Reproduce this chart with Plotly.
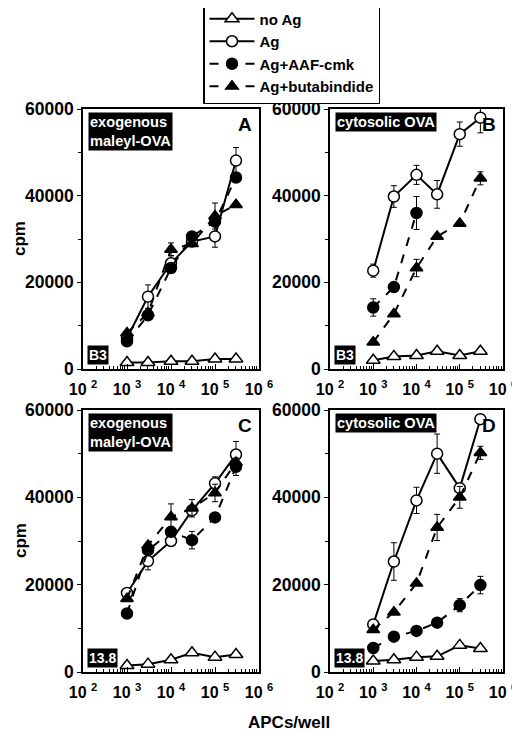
import plotly.graph_objects as go

W, H = 520, 734
OFF = 8  # page body margin of the browser

# ---------------- data ----------------
apcs = [1e3, 3e3, 1e4, 3e4, 1e5, 3e5]
series_names = ["no Ag", "Ag", "Ag+AAF-cmk", "Ag+butabindide"]

# Panel A (B3, exogenous maleyl-OVA)
A_noag = [1500, 1500, 1800, 1800, 2300, 2300]
A_ag = [7100, 16700, 24400, 29400, 30600, 48100]
A_ag_err = [0, 2700, 1800, 0, 2500, 3000]
A_aaf = [6400, 12400, 23300, 30600, 34000, 44200]
A_aaf_err = [0, 0, 0, 0, 0, 0]
A_buta = [8300, 12900, 27600, 28900, 35300, 37900]
A_buta_err = [0, 0, 1500, 0, 3000, 0]

# Panel B (B3, cytosolic OVA)
B_noag = [2000, 2900, 3100, 4100, 3100, 4100]
B_ag = [22700, 39800, 44800, 40300, 54200, 58000]
B_ag_err = [1500, 2500, 2200, 3200, 2800, 3500]
B_aaf = [14200, 18900, 36000, None, None, None]
B_aaf_err = [2000, 0, 3800, 0, 0, 0]
B_buta = [6200, 12700, 23300, 30600, 33600, 44000]
B_buta_err = [0, 0, 2000, 0, 0, 1500]

# Panel C (13.8, exogenous maleyl-OVA)
C_noag = [1500, 1800, 2800, 4400, 3400, 4000]
C_ag = [18100, 25400, 30000, 37000, 43200, 49800]
C_ag_err = [0, 2000, 0, 0, 1500, 3000]
C_aaf = [13400, 27900, 32100, 30200, 35400, 47000]
C_aaf_err = [0, 0, 0, 2000, 0, 2000]
C_buta = [16800, 29000, 35500, 37500, 41000, 48000]
C_buta_err = [0, 0, 3000, 2000, 2000, 0]

# Panel D (13.8, cytosolic OVA)
D_noag = [2500, 2800, 3400, 3600, 6100, 5400]
D_ag = [10900, 25300, 39300, 50000, 42100, 57900]
D_ag_err = [0, 4300, 3000, 4500, 0, 0]
D_aaf = [5500, 8100, 9400, 11300, 15300, 19900]
D_aaf_err = [0, 0, 0, 0, 1500, 2000]
D_buta = [9700, 13700, 20300, 33100, 40000, 50200]
D_buta_err = [0, 0, 0, 3000, 2500, 1500]

x_tickvals = [1e2, 1e3, 1e4, 1e5, 1e6]
x_ticktext = ["10 <sup>2</sup>", "10 <sup>3</sup>", "10 <sup>4</sup>", "10 <sup>5</sup>", "10 <sup>6</sup>"]
y_tickvals = [0, 20000, 40000, 60000]
y_ticktext = ["0", "20000", "40000", "60000"]

panels = [
    dict(name="A", cell="B3", label="exogenous<br>maleyl-OVA",
         data=[(A_noag, None), (A_ag, A_ag_err), (A_aaf, A_aaf_err), (A_buta, A_buta_err)],
         px=(83, 259), py=(109, 369)),
    dict(name="B", cell="B3", label="cytosolic OVA",
         data=[(B_noag, None), (B_ag, B_ag_err), (B_aaf, B_aaf_err), (B_buta, B_buta_err)],
         px=(330, 503), py=(109, 369)),
    dict(name="C", cell="13.8", label="exogenous<br>maleyl-OVA",
         data=[(C_noag, None), (C_ag, C_ag_err), (C_aaf, C_aaf_err), (C_buta, C_buta_err)],
         px=(83, 259), py=(410, 672)),
    dict(name="D", cell="13.8", label="cytosolic OVA",
         data=[(D_noag, None), (D_ag, D_ag_err), (D_aaf, D_aaf_err), (D_buta, D_buta_err)],
         px=(330, 503), py=(410, 672)),
]

styles = [
    dict(symbol="triangle-up", fill="white", dash="solid", size=12),
    dict(symbol="circle", fill="white", dash="solid", size=11),
    dict(symbol="circle", fill="black", dash="dash", size=11),
    dict(symbol="triangle-up", fill="black", dash="dash", size=11),
]

FONT = "Liberation Sans, Arial, sans-serif"


def fx(px):
    return (px - OFF) / W


def fy(py):
    return 1 - (py - OFF) / H


fig = go.Figure()
layout = dict(
    width=W, height=H,
    margin=dict(l=0, r=0, t=0, b=0, autoexpand=False),
    paper_bgcolor="white", plot_bgcolor="white",
    font=dict(family=FONT, color="black", size=13, weight="bold"),
    showlegend=True,
    legend=dict(
        x=fx(203), y=fy(1), xanchor="left", yanchor="top",
        bordercolor="black", borderwidth=1.5, bgcolor="white",
        font=dict(family=FONT, size=15, weight="bold", color="black"),
        tracegroupgap=0, itemwidth=45,
    ),
    annotations=[], shapes=[],
)

for i, p in enumerate(panels):
    ax = "" if i == 0 else str(i + 1)
    xref, yref = "x" + ax, "y" + ax
    for j, ((vals, err), st) in enumerate(zip(p["data"], styles)):
        fig.add_trace(go.Scatter(
            x=apcs, y=vals, xaxis=xref, yaxis=yref,
            name=series_names[j], legendgroup=series_names[j],
            showlegend=(i == 0),
            mode="lines+markers",
            line=dict(color="black", width=2, dash=st["dash"]),
            marker=dict(symbol=st["symbol"], size=st["size"], color=st["fill"],
                        line=dict(color="black", width=1.5)),
            error_y=(dict(type="data", array=err, visible=True, color="black",
                          thickness=1, width=3) if err is not None else None),
            connectgaps=False, cliponaxis=False,
        ))
    x0, x1 = p["px"]
    y0, y1 = p["py"]
    xa = dict(
        type="log", range=[2, 6], domain=[fx(x0), fx(x1)],
        anchor=yref, showgrid=False, zeroline=False, automargin=False,
        showline=True, linecolor="black", linewidth=1.5, mirror=True,
        tickvals=x_tickvals, ticktext=x_ticktext,
        ticks="inside", ticklen=5, tickwidth=1, tickcolor="black",
        ticklabelstandoff=5,
        minor=dict(ticks="inside", ticklen=3, tickwidth=1, tickcolor="black",
                   dtick="D1", showgrid=False),
        tickfont=dict(family=FONT, size=16, weight="bold", color="black"),
        fixedrange=True,
    )
    ya = dict(
        range=[0, 60000], domain=[fy(y1), fy(y0)],
        anchor=xref, showgrid=False, zeroline=False, automargin=False,
        showline=True, linecolor="black", linewidth=1.5, mirror=True,
        tickvals=y_tickvals, ticktext=y_ticktext,
        ticks="outside", ticklen=4, tickwidth=1, tickcolor="black",
        minor=dict(ticks="outside", ticklen=3, tickwidth=1, tickcolor="black",
                   dtick=10000, showgrid=False),
        tickfont=dict(family=FONT, size=17.5, weight="bold", color="black"),
        fixedrange=True,
    )
    layout["xaxis" + ax] = xa
    layout["yaxis" + ax] = ya

    # condition label (white on black)
    layout["annotations"].append(dict(
        xref="paper", yref="paper", x=fx(x0 + 5), y=fy(y0 + 3),
        xanchor="left", yanchor="top", align="left", showarrow=False,
        text=p["label"], bgcolor="black", borderpad=1,
        font=dict(family=FONT, size=14.6, weight="bold", color="white"),
    ))
    # panel letter
    layout["annotations"].append(dict(
        xref="paper", yref="paper", x=fx(x1 - 5), y=fy(y0 + 3),
        xanchor="right", yanchor="top", showarrow=False,
        text=p["name"], font=dict(family=FONT, size=19, weight="bold", color="black"),
    ))
    # cell line label
    layout["annotations"].append(dict(
        xref="paper", yref="paper", x=fx(x0 + 4), y=fy(y1 - 4),
        xanchor="left", yanchor="bottom", showarrow=False,
        text=p["cell"], bgcolor="black", borderpad=1,
        font=dict(family=FONT, size=14, weight="bold", color="white"),
    ))

# axis titles
for yc in [(109 + 369) / 2, (410 + 672) / 2]:
    layout["annotations"].append(dict(
        xref="paper", yref="paper", x=fx(20), y=fy(yc),
        xanchor="center", yanchor="middle", showarrow=False, textangle=-90,
        text="cpm", font=dict(family=FONT, size=17, weight="bold", color="black"),
    ))
layout["annotations"].append(dict(
    xref="paper", yref="paper", x=fx(289), y=fy(722),
    xanchor="center", yanchor="middle", showarrow=False,
    text="APCs/well", font=dict(family=FONT, size=17, weight="bold", color="black"),
))

fig.update_layout(**layout)
fig.write_html("out.html")
